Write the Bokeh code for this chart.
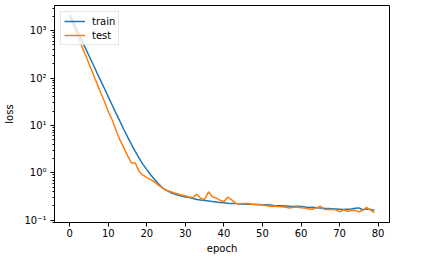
from bokeh.plotting import figure
from bokeh.models import Range1d, FixedTicker
from bokeh.embed import file_html
from bokeh.resources import INLINE

epochs = list(range(80))

train_loss = [
    2190, 1480, 980, 660, 437, 295, 200, 132, 89, 60,
    40, 27, 18.2, 12.3, 8.3, 5.75, 3.98, 2.82, 2.04, 1.51,
    1.17, 0.91, 0.72, 0.59, 0.49, 0.43, 0.39, 0.363, 0.339, 0.324,
    0.309, 0.302, 0.288, 0.275, 0.266, 0.26, 0.254, 0.248, 0.243, 0.237,
    0.233, 0.229, 0.226, 0.224, 0.221, 0.219, 0.218, 0.216, 0.215, 0.214,
    0.213, 0.211, 0.209, 0.204, 0.203, 0.202, 0.2, 0.197, 0.195, 0.197,
    0.194, 0.19, 0.186, 0.188, 0.184, 0.182, 0.178, 0.176, 0.174, 0.172,
    0.17, 0.168, 0.17, 0.172, 0.178, 0.182, 0.166, 0.172, 0.168, 0.162,
]

test_loss = [
    2000, 1260, 794, 500, 316, 200, 126, 79, 50, 32,
    19.5, 13.2, 7.9, 5.0, 3.4, 2.3, 1.62, 1.62, 1.07, 0.89,
    0.79, 0.72, 0.645, 0.55, 0.48, 0.427, 0.407, 0.38, 0.363, 0.339,
    0.324, 0.309, 0.302, 0.355, 0.288, 0.275, 0.398, 0.309, 0.295, 0.263,
    0.245, 0.309, 0.269, 0.229, 0.221, 0.224, 0.226, 0.219, 0.216, 0.211,
    0.209, 0.204, 0.197, 0.2, 0.195, 0.193, 0.188, 0.182, 0.188, 0.19,
    0.184, 0.18, 0.172, 0.17, 0.182, 0.197, 0.17, 0.168, 0.168, 0.166,
    0.15, 0.166, 0.155, 0.16, 0.162, 0.15, 0.162, 0.186, 0.166, 0.145,
]

x_ticks = [0, 10, 20, 30, 40, 50, 60, 70, 80]
y_ticks = [0.1, 1, 10, 100, 1000]
y_tick_labels = ["10\u207b\u00b9", "10\u2070", "10\u00b9", "10\u00b2", "10\u00b3"]

FONT = "DejaVu Sans"

p = figure(
    width=429, height=257,
    y_axis_type="log",
    x_range=Range1d(-3.95, 82.95),
    y_range=Range1d(10 ** -1.048, 10 ** 3.53),
    output_backend="svg", toolbar_location=None,
    min_border_left=54, min_border_right=40, min_border_top=5, min_border_bottom=35,
)

p.line(epochs, train_loss, line_color="#1f77b4", line_width=1.5, legend_label="train")
p.line(epochs, test_loss, line_color="#ff7f0e", line_width=1.5, legend_label="test")

p.xgrid.visible = False
p.ygrid.visible = False
p.outline_line_color = "black"
p.outline_line_width = 1
p.background_fill_color = "white"
p.border_fill_color = "white"

minor = [m * 10 ** k for k in range(-2, 4) for m in range(2, 10)]
p.yaxis.ticker = FixedTicker(ticks=y_ticks, minor_ticks=minor)
p.yaxis.major_label_overrides = {t: s for t, s in zip(y_ticks, y_tick_labels)}
p.xaxis.ticker = FixedTicker(ticks=x_ticks, minor_ticks=[])

for ax in (p.xaxis, p.yaxis):
    ax.axis_line_color = "black"
    ax.major_tick_line_color = "black"
    ax.minor_tick_line_color = "black"
    ax.major_tick_in = 0
    ax.major_tick_out = 4
    ax.minor_tick_in = 0
    ax.minor_tick_out = 2
    ax.major_label_text_font = FONT
    ax.major_label_text_font_size = "10px"
    ax.major_label_text_color = "black"
    ax.axis_label_text_font = FONT
    ax.axis_label_text_font_size = "10px"
    ax.axis_label_text_font_style = "normal"
    ax.axis_label_text_color = "black"

p.xaxis.axis_label = "epoch"
p.yaxis.axis_label = "loss"
p.xaxis.major_label_standoff = 2
p.xaxis.axis_label_standoff = 3
p.yaxis.major_label_standoff = 4
p.yaxis.axis_label_standoff = 6

lg = p.legend[0]
lg.location = "top_left"
lg.margin = 6
lg.padding = 3
lg.spacing = 2
lg.glyph_width = 21
lg.glyph_height = 12
lg.label_height = 12
lg.label_standoff = 7
lg.label_text_font = FONT
lg.label_text_font_size = "10px"
lg.label_text_color = "black"
lg.border_line_color = "#cccccc"
lg.border_line_width = 1
lg.background_fill_alpha = 0.8

open("out.html", "w").write(file_html(p, INLINE))
